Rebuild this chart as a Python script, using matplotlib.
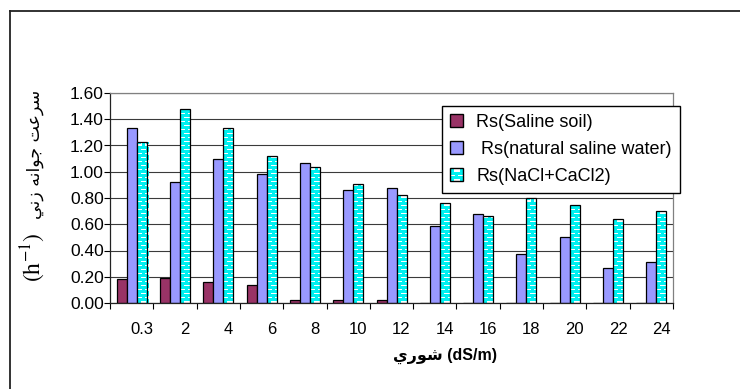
import numpy as np
import matplotlib
matplotlib.use("Agg")
import matplotlib.pyplot as plt
from matplotlib.patches import Rectangle
from matplotlib.lines import Line2D
from matplotlib.collections import LineCollection
from matplotlib.legend_handler import HandlerBase
from matplotlib.transforms import ScaledTranslation

plt.rcParams["font.family"] = ["Liberation Sans", "DejaVu Sans"]
plt.rcParams["mathtext.fontset"] = "stix"

# salinity levels (dS/m) and germination rate per treatment
salinity = ["0.3", "2", "4", "6", "8", "10", "12", "14", "16", "18", "20", "22", "24"]
rs_soil = [0.18, 0.19, 0.16, 0.14, 0.02, 0.02, 0.02, 0.0, 0.0, 0.0, 0.0, 0.0, 0.0]
rs_water = [1.33, 0.92, 1.10, 0.98, 1.07, 0.86, 0.88, 0.59, 0.68, 0.37, 0.50, 0.27, 0.31]
rs_nacl = [1.23, 1.48, 1.33, 1.12, 1.04, 0.91, 0.82, 0.76, 0.66, 0.80, 0.75, 0.64, 0.70]
labels = ["Rs(Saline soil)", " Rs(natural saline water)", "Rs(NaCl+CaCl2)"]

PLUM = "#993366"
LAV = "#9999FF"
CYAN = "#00F0F0"

# Arabic words in visual (left-to-right) order, presentation forms
XLABEL = "\uFEF1\uFEAD\uFEEE\uFEB7 (dS/m)"
YLABEL_AR = ("\uFEF2\uFEE7\uFEAF \uFEEA\uFEE7\uFE8D\uFEEE\uFE9F "
             "\uFE96\uFECB\uFEAE\uFEB3")

W, H = 740, 389
fig = plt.figure(figsize=(W / 100, H / 100), dpi=100)
ax = fig.add_axes([110 / W, 1 - 303 / H, 563 / W, 210 / H])

n = len(salinity)
ax.set_xlim(0, n)
ax.set_ylim(0, 1.6)
px_x = n / 563.0       # data units per pixel
px_y = 1.6 / 210.0
bw = 10 * px_x
centers = np.arange(n) + 0.5

ax.bar(centers - bw, rs_soil, bw, color=PLUM, edgecolor="black", lw=0.9, zorder=2)
ax.bar(centers, rs_water, bw, color=LAV, edgecolor="black", lw=0.9, zorder=2)
base = ax.bar(centers + bw, rs_nacl, bw, color="white", lw=0, zorder=2)


def brick_segments(x0, y0, wd, ht, hstep, vstep):
    """Horizontal courses with staggered joints, like a brick wall."""
    segs = []
    top = y0 + ht
    k = 1
    while y0 + k * hstep < top - 0.5 * hstep:
        y = y0 + k * hstep
        segs.append([(x0, y), (x0 + wd, y)])
        k += 1
    rows = int(np.ceil(ht / hstep))
    for k in range(rows):
        ya, yb = y0 + k * hstep, min(y0 + (k + 1) * hstep, top)
        xv = x0 + (0.25 if k % 2 == 0 else 0.75) * vstep
        while xv < x0 + wd:
            segs.append([(xv, ya), (xv, yb)])
            xv += vstep
    return segs


for b in base:
    segs = brick_segments(b.get_x(), 0, b.get_width(), b.get_height(), 4 * px_y, 8 * px_x)
    lc = LineCollection(segs, colors=CYAN, lw=0.75, antialiaseds=False, zorder=2.1)
    lc.set_clip_path(b)
    ax.add_collection(lc)
ax.bar(centers + bw, rs_nacl, bw, facecolor="none", edgecolor="black", lw=0.9, zorder=2.2)

# axes styling
ax.set_yticks(np.arange(0, 1.61, 0.2))
ax.set_yticklabels([f"{v:.2f}" for v in np.arange(0, 1.61, 0.2)])
ax.yaxis.grid(True, color="#3a3a3a", lw=0.8, zorder=0)
ax.set_axisbelow(True)
ax.set_xticks(centers)
ax.set_xticklabels(salinity)
ax.set_xticks(np.arange(n + 1), minor=True)
ax.tick_params(axis="x", which="major", length=0, pad=13.5, labelsize=12)
ax.tick_params(axis="x", which="minor", length=4, width=0.8, direction="out")
ax.tick_params(axis="y", length=4, width=0.8, direction="out", pad=0.5, labelsize=12.5)
for lab in ax.get_xticklabels():
    lab.set_transform(lab.get_transform() + ScaledTranslation(0.1, 0, fig.dpi_scale_trans))
for side in ("top", "right"):
    ax.spines[side].set_color("#808080")
for side in ("left", "bottom"):
    ax.spines[side].set_color("#222222")
for sp in ax.spines.values():
    sp.set_linewidth(0.9)


class BrickHandler(HandlerBase):
    def create_artists(self, legend, orig_handle, xdescent, ydescent,
                       width, height, fontsize, trans):
        x0, y0 = -xdescent, -ydescent
        bg = Rectangle((x0, y0), width, height, facecolor="white", lw=0, transform=trans)
        lc = LineCollection(brick_segments(x0, y0, width, height, height / 3, width / 1.5),
                            colors=CYAN, lw=0.75, antialiaseds=False, transform=trans)
        lc.set_clip_path(bg)
        edge = Rectangle((x0, y0), width, height, facecolor="none",
                         edgecolor="black", lw=1.0, transform=trans)
        return [bg, lc, edge]


h_soil = Rectangle((0, 0), 1, 1, facecolor=PLUM, edgecolor="black", lw=1.0)
h_water = Rectangle((0, 0), 1, 1, facecolor=LAV, edgecolor="black", lw=1.0)
h_nacl = Rectangle((0, 0), 1, 1)
leg = fig.legend([h_soil, h_water, h_nacl], labels,
                 handler_map={h_nacl: BrickHandler()},
                 loc="upper left", mode="expand",
                 bbox_to_anchor=(442 / W, 1 - 195 / H, 238 / W, 89 / H),
                 borderaxespad=0, fontsize=13, frameon=True, fancybox=False,
                 framealpha=1, edgecolor="black", handlelength=0.7, handleheight=0.7,
                 handletextpad=0.75, labelspacing=0.55, borderpad=0.45)
leg.get_frame().set_linewidth(1.0)

# axis titles
fig.text(445 / W, 1 - 356 / H, XLABEL, ha="center", va="center",
         fontsize=11.5, fontweight="bold")
fig.text(40 / W, 1 - 282 / H, r"$\mathrm{(h^{-1})}$", rotation=90,
         rotation_mode="anchor", ha="left", va="baseline", fontsize=17)
fig.text(40 / W, 1 - 90 / H, YLABEL_AR, rotation=90, rotation_mode="anchor",
         ha="right", va="baseline", fontsize=12.5, family="DejaVu Sans")

# outer chart frame (only left and top edges fall inside the image)
fig.add_artist(Line2D([9.5 / W, 9.5 / W], [0, 1 - 10.5 / H], color="#222222", lw=1.3))
fig.add_artist(Line2D([9.5 / W, 1], [1 - 10.5 / H, 1 - 10.5 / H], color="#222222", lw=1.3))

fig.savefig("out.png", dpi=100)
